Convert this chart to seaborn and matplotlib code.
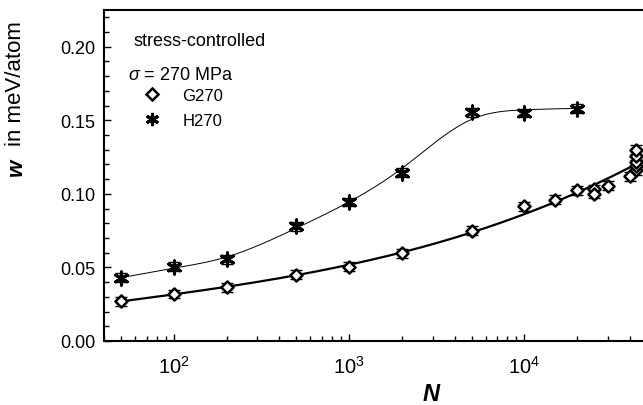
import numpy as np
import pandas as pd
import matplotlib
matplotlib.use("Agg")
import matplotlib.pyplot as plt
from matplotlib.lines import Line2D
from matplotlib.ticker import LogLocator, MultipleLocator, NullFormatter
import seaborn as sns

# Fatigue data: integral width w versus number of cycles N (stress-controlled, 270 MPa)
g_cycles = [50, 100, 200, 500, 1000, 2000, 5000, 10000, 15000, 20000,
            25000, 25000, 30000, 40000, 43000, 43000, 43000, 43000, 43000]
g_width = [0.027, 0.032, 0.0365, 0.045, 0.0505, 0.0595, 0.075, 0.0915, 0.096, 0.1025,
           0.103, 0.100, 0.1057, 0.112, 0.116, 0.119, 0.122, 0.126, 0.130]
h_cycles = [50, 100, 200, 500, 1000, 2000, 5000, 10000, 20000]
h_width = [0.043, 0.0505, 0.0555, 0.078, 0.0945, 0.1145, 0.1555, 0.155, 0.158]
w_err = 0.003

x_ticks = [1e2, 1e3, 1e4]
y_ticks = [0.00, 0.05, 0.10, 0.15, 0.20]


def smoothing_curve(n, w, n_lo, n_hi, smooth, num=400):
    """Penalised (Whittaker) smoothing spline of w against log10 N on a fine grid."""
    grid = np.linspace(np.log10(n_lo), np.log10(n_hi), num)
    h = grid[1] - grid[0]
    wt = np.zeros(num)
    wy = np.zeros(num)
    for xi, yi in zip(np.log10(n), w):
        k = int(np.argmin(np.abs(grid - xi)))
        wt[k] += 1.0
        wy[k] += yi
    D = np.diff(np.eye(num), n=2, axis=0)
    lam = smooth / h**3
    f = np.linalg.solve(np.diag(wt) + lam * D.T @ D, wy)
    return 10 ** grid, f


def poly_fit(n, w, n_eval, deg=3):
    p = np.polyfit(np.log10(n), w, deg)
    return np.polyval(p, np.log10(n_eval))


sns.set_theme(style="ticks")
plt.rcParams["font.family"] = ["Liberation Sans", "DejaVu Sans"]
plt.rcParams["mathtext.fontset"] = "custom"
plt.rcParams["mathtext.rm"] = "Liberation Sans"
plt.rcParams["mathtext.it"] = "Liberation Sans:italic"
plt.rcParams["mathtext.bf"] = "Liberation Sans:bold"
plt.rcParams["text.color"] = "black"
plt.rcParams["xtick.labelcolor"] = "black"
plt.rcParams["ytick.labelcolor"] = "black"

fig = plt.figure(figsize=(6.43, 4.06), dpi=100)
ax = fig.add_axes([104 / 643, 64 / 406, 543 / 643, 331 / 406])

# fitted curves
n_g = np.logspace(np.log10(50), np.log10(50000), 300)
g_curve = pd.DataFrame({"N": n_g, "w": poly_fit(g_cycles, g_width, n_g)})
n_h, w_h = smoothing_curve(h_cycles, h_width, 50, 21500, smooth=2.5e-3)
h_curve = pd.DataFrame({"N": n_h, "w": w_h})
sns.lineplot(data=g_curve, x="N", y="w", ax=ax, color="black", linewidth=1.6,
             estimator=None, sort=False, zorder=2)
sns.lineplot(data=h_curve, x="N", y="w", ax=ax, color="black", linewidth=0.7,
             estimator=None, sort=False, zorder=2)

# error bars
ax.errorbar(g_cycles, g_width, yerr=w_err, fmt="none", ecolor="black",
            elinewidth=1.0, capsize=4, capthick=1.0, zorder=3)
ax.errorbar(h_cycles, h_width, yerr=w_err, fmt="none", ecolor="black",
            elinewidth=1.0, capsize=4, capthick=1.0, zorder=3)

# data markers
g_df = pd.DataFrame({"N": g_cycles, "w": g_width})
h_df = pd.DataFrame({"N": h_cycles, "w": h_width})
sns.scatterplot(data=g_df, x="N", y="w", ax=ax, marker="D", s=38,
                facecolor="white", edgecolor="black", linewidth=1.8, zorder=4)
sns.scatterplot(data=h_df, x="N", y="w", ax=ax, marker=(6, 2, 0), s=90,
                color="black", linewidth=2.2, zorder=4)

ax.set_xscale("log")
ax.set_xlim(40, 50000)
ax.set_ylim(0, 0.225)
ax.set_xticks(x_ticks)
ax.xaxis.set_minor_locator(LogLocator(base=10, subs=np.arange(2, 10)))
ax.xaxis.set_minor_formatter(NullFormatter())
ax.set_yticks(y_ticks)
ax.set_yticklabels([f"{v:.2f}" for v in y_ticks])
ax.yaxis.set_minor_locator(MultipleLocator(0.01))
ax.set_xlabel("")
ax.set_ylabel("")

for side in ["left", "bottom", "top", "right"]:
    ax.spines[side].set_linewidth(1.5)
    ax.spines[side].set_color("black")

ax.tick_params(axis="both", which="both", direction="in", top=False, right=False,
               color="black", width=1.0, labelcolor="black")
ax.tick_params(axis="both", which="major", length=5)
ax.tick_params(axis="both", which="minor", length=3.3)
ax.tick_params(axis="y", which="major", labelsize=13, pad=6)
ax.tick_params(axis="x", which="major", labelsize=14.5, pad=10)

# annotations
ax.text((134 - 104) / 543, (342 - 42) / 331, "stress-controlled",
        transform=ax.transAxes, fontsize=13, ha="left", va="center")
ax.text((128 - 104) / 543, (342 - 75) / 331, r"$\sigma$ = 270 MPa",
        transform=ax.transAxes, fontsize=13, ha="left", va="center")

handles = [
    Line2D([], [], linestyle="none", marker="D", markersize=6.3,
           markerfacecolor="white", markeredgecolor="black", markeredgewidth=1.8),
    Line2D([], [], linestyle="none", marker=(6, 2, 0), markersize=9.5,
           color="black", markeredgewidth=2.2),
]
ax.legend(handles, ["G270", "H270"], loc="upper left",
          bbox_to_anchor=((144 - 104) / 543, (342 - 89) / 331),
          frameon=False, fontsize=12, handlelength=1.0, handletextpad=1.3,
          labelspacing=0.6, borderpad=0, borderaxespad=0)

# axis titles
fig.text(16 / 643, 1 - 167 / 406, "w", rotation=90, fontsize=16,
         fontweight="bold", fontstyle="italic", ha="center", va="center")
fig.text(16 / 643, 1 - 84 / 406, "in meV/atom", rotation=90, fontsize=16,
         ha="center", va="center")
fig.text(431 / 643, 11 / 406, "N", fontsize=17, fontweight="bold",
         fontstyle="italic", ha="center", va="center")

fig.savefig("out.png", dpi=100)
